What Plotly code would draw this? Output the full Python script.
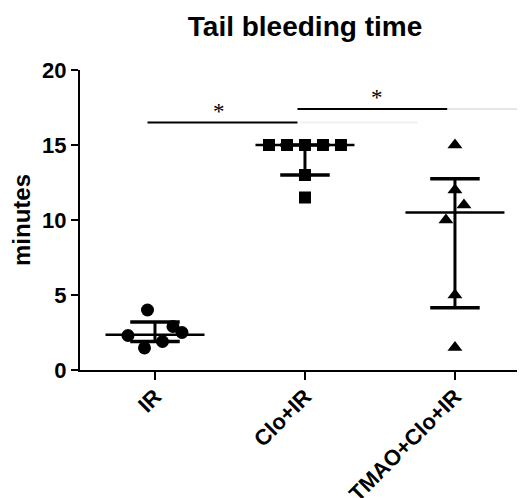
import plotly.graph_objects as go

categories = ["IR", "Clo+IR", "TMAO+Clo+IR"]
ir_values = [4.0, 2.3, 1.47, 1.9, 2.9, 2.5]
clo_values = [15, 15, 15, 15, 15, 13, 11.5]
tmao_values = [15, 12, 11, 10, 5, 1.5]
medians = [2.35, 15, 10.5]
q1 = [1.9, 13, 4.15]
q3 = [3.2, 15, 12.75]
sig_pairs = [(0, 1, 16.5), (1, 2, 17.4)]
sig_labels = ["*", "*"]

# layout-only positions
ir_off = [-0.05, -0.18, -0.07, 0.05, 0.12, 0.18]
clo_off = [-0.24, -0.12, 0, 0.12, 0.24, 0, 0]
tmao_off = [0, 0, 0.06, -0.06, 0, 0]
star_x = [0.43, 1.48]

groups = [
    (ir_values, ir_off, "circle", 13),
    (clo_values, clo_off, "square", 12),
    (tmao_values, tmao_off, "triangle-up", 13),
]

fig = go.Figure()
for i, (vals, offs, sym, sz) in enumerate(groups):
    fig.add_trace(go.Scatter(
        x=[i + o for o in offs], y=vals, mode="markers",
        marker=dict(symbol=sym, size=sz, color="black", line=dict(width=0)),
        showlegend=False, hoverinfo="skip"))

med_half = 0.33
cap_half = 0.165
for i in range(len(categories)):
    fig.add_trace(go.Scatter(x=[i, i], y=[q1[i], q3[i]], mode="lines",
                             line=dict(color="black", width=3), showlegend=False, hoverinfo="skip"))
    fig.add_trace(go.Scatter(x=[i - med_half, i + med_half], y=[medians[i], medians[i]], mode="lines",
                             line=dict(color="black", width=2.5), showlegend=False, hoverinfo="skip"))
    for v in (q1[i], q3[i]):
        fig.add_trace(go.Scatter(x=[i - cap_half, i + cap_half], y=[v, v], mode="lines",
                                 line=dict(color="black", width=3.5), showlegend=False, hoverinfo="skip"))

# significance bars
for (a, b, yv), lab, sx in zip(sig_pairs, sig_labels, star_x):
    fig.add_trace(go.Scatter(x=[a - 0.05, b - 0.05], y=[yv, yv], mode="lines",
                             line=dict(color="black", width=2), showlegend=False, hoverinfo="skip"))
    fig.add_annotation(x=sx, y=yv, text=lab, showarrow=False, yanchor="bottom",
                       font=dict(family="Liberation Serif", size=23, color="black"), yshift=-3)
# faint continuations
fig.add_trace(go.Scatter(x=[0.97, 1.75], y=[16.5, 16.5], mode="lines",
                         line=dict(color="#f0f0f0", width=2), showlegend=False, hoverinfo="skip"))
fig.add_trace(go.Scatter(x=[1.95, 2.47], y=[17.4, 17.4], mode="lines",
                         line=dict(color="#e6e6e6", width=2), showlegend=False, hoverinfo="skip"))

fig.update_layout(
    width=517, height=490,
    margin=dict(l=72, r=0, t=62, b=128, autoexpand=False),
    paper_bgcolor="white", plot_bgcolor="white",
    font=dict(family="Liberation Sans", color="black"),
    title=dict(text="<b>Tail bleeding time</b>", x=297 / 517, xref="container", xanchor="center",
               y=1 - 18 / 490, yref="container", yanchor="middle",
               font=dict(size=28, color="black", family="Liberation Sans")),
    xaxis=dict(range=[-0.5, 2.467], tickmode="array", tickvals=[0, 1, 2], ticktext=categories,
               tickangle=-45, showgrid=False, zeroline=False, showline=True, linecolor="black",
               linewidth=2, ticks="outside", ticklen=8, tickwidth=2, tickcolor="black",
               ticklabelstandoff=-5,
               tickfont=dict(size=22, weight="bold", family="Liberation Sans")),
    yaxis=dict(range=[0, 20], tickvals=[0, 5, 10, 15, 20], showgrid=False, zeroline=False,
               showline=True, linecolor="black", linewidth=2, ticks="outside", ticklen=7,
               tickwidth=2, tickcolor="black",
               tickfont=dict(size=22, weight="bold", family="Liberation Sans"),
               title=dict(text="<b>minutes</b>", standoff=6,
                          font=dict(size=24, family="Liberation Sans"))),
)

fig.write_html("out.html")
